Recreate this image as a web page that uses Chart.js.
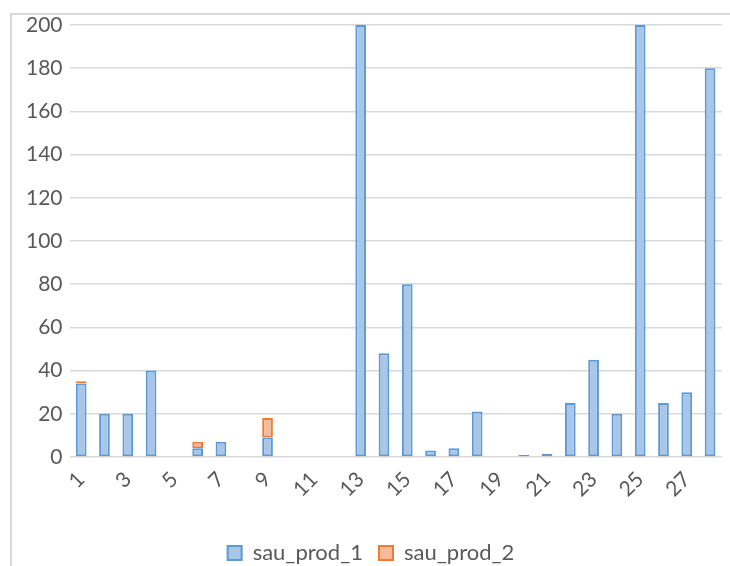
<!DOCTYPE html>
<html>
<head>
<meta charset="utf-8">
<script src="https://cdn.jsdelivr.net/npm/chart.js@4.4.0/dist/chart.umd.min.js"></script>
<style>
  html,body{margin:0;padding:0;background:#fff;}
  #wrap{position:relative;width:730px;height:566px;overflow:hidden;}
  #frame{position:absolute;left:10px;top:13px;width:740px;height:600px;border:2px solid #d9d9d9;box-sizing:border-box;}
  #c{position:absolute;left:0;top:0;}
</style>
</head>
<body>
<div id="wrap">
  <div id="frame"></div>
  <canvas id="c" width="730" height="566"></canvas>
</div>
<script>
const categories = ['1','2','3','4','5','6','7','8','9','10','11','12','13','14','15','16','17','18','19','20','21','22','23','24','25','26','27','28'];
const sauProd1 = [34,20,20,40,0,4,7,0,9,0,0,0,200,48,80,3,4,21,0,1,1.5,25,45,20,200,25,30,180];
const sauProd2 = [1,0,0,0,0,3,0,0,9,0,0,0,0,0,0,0,0,0,0,0,0,0,0,0,0,0,0,0];
const yTicks = [0,20,40,60,80,100,120,140,160,180,200];

const gray = '#595959';
const font = {family:'Lato, "Open Sans", sans-serif', size:21};
const legendFont = {family:'Lato, "Open Sans", sans-serif', size:22};

new Chart(document.getElementById('c'), {
  type:'bar',
  data:{
    labels:categories,
    datasets:[
      {label:'sau_prod_1', data:sauProd1, backgroundColor:'#a9c6e8', borderColor:'#5b9bd5', borderWidth:2, borderSkipped:false},
      {label:'sau_prod_2', data:sauProd2, backgroundColor:'#f6b99a', borderColor:'#ed7d31', borderWidth:2, borderSkipped:false}
    ]
  },
  options:{
    responsive:false,
    animation:false,
    layout:{padding:{top:25,right:7,left:19,bottom:-8}},
    datasets:{bar:{categoryPercentage:1, barPercentage:0.46}},
    scales:{
      x:{
        stacked:true,
        grid:{display:false},
        border:{display:false},
        ticks:{
          color:gray, font:font, autoSkip:false, maxRotation:45, minRotation:45, padding:2,
          callback:function(v,i){ return i%2===0 ? categories[i] : ''; }
        },
        afterFit:function(s){ s.height += 22; }
      },
      y:{
        stacked:true, min:0, max:200,
        afterBuildTicks:function(s){ s.ticks = yTicks.map(v=>({value:v})); },
        grid:{color:'#d9d9d9', lineWidth:1.5, drawTicks:false},
        border:{display:false},
        ticks:{color:gray, font:font, padding:7}
      }
    },
    plugins:{
      legend:{
        position:'bottom',
        labels:{color:gray, font:legendFont, boxWidth:14, boxHeight:14, padding:16}
      },
      tooltip:{enabled:false}
    }
  }
});
</script>
</body>
</html>
